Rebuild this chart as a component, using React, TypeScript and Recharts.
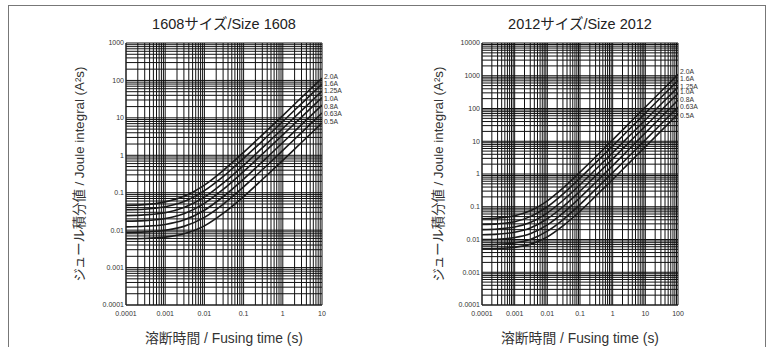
import { LineChart, Line, XAxis, YAxis, CartesianGrid } from 'recharts';

// fusing currents, top curve first
const CURRENTS = ['2.0A', '1.6A', '1.25A', '1.0A', '0.8A', '0.63A', '0.5A'];

// --- 1608 size ---
const TIME_1608 = [0.0001, 0.0003, 0.001, 0.003, 0.01, 0.03, 0.1, 0.3, 1, 3, 10];
const I2T_1608_20 = [0.046, 0.048, 0.057, 0.08, 0.16, 0.39, 1.2, 3.5, 11.5, 35, 115];
const I2T_1608_16 = [0.035, 0.036, 0.042, 0.058, 0.114, 0.27, 0.83, 2.4, 8, 24, 80];
const I2T_1608_125 = [0.0245, 0.0256, 0.029, 0.04, 0.076, 0.18, 0.54, 1.58, 5.2, 15.6, 52];
const I2T_1608_10 = [0.0174, 0.018, 0.0205, 0.0275, 0.052, 0.122, 0.37, 1.07, 3.5, 10.5, 35];
const I2T_1608_08 = [0.0122, 0.0127, 0.0142, 0.0186, 0.034, 0.078, 0.23, 0.67, 2.2, 6.6, 22];
const I2T_1608_063 = [0.0086, 0.0089, 0.0099, 0.0126, 0.022, 0.049, 0.144, 0.41, 1.35, 4.05, 13.5];
const I2T_1608_05 = [0.0059, 0.006, 0.0065, 0.008, 0.013, 0.028, 0.079, 0.225, 0.73, 2.2, 7.3];
const X_TICKS_1608 = [0.0001, 0.001, 0.01, 0.1, 1, 10];
const Y_TICKS_1608 = [0.0001, 0.001, 0.01, 0.1, 1, 10, 100, 1000];
// small vertical nudges so the end labels sit in an even stack
const NUDGE_1608 = [-1.8, -0.6, 0, 0.9, 2, 1, -1];

// --- 2012 size ---
const TIME_2012 = [0.0001, 0.0003, 0.001, 0.003, 0.01, 0.03, 0.1, 0.3, 1, 3, 10, 30, 100];
const I2T_2012_20 = [0.043, 0.045, 0.053, 0.075, 0.152, 0.37, 1.14, 3.3, 11, 33, 110, 330, 1100];
const I2T_2012_16 = [0.0287, 0.03, 0.035, 0.05, 0.1, 0.244, 0.75, 2.19, 7.2, 21.6, 72, 216, 720];
const I2T_2012_125 = [0.02, 0.021, 0.024, 0.033, 0.065, 0.155, 0.47, 1.37, 4.5, 13.5, 45, 135, 450];
const I2T_2012_10 = [0.014, 0.0146, 0.0166, 0.0224, 0.043, 0.1, 0.3, 0.88, 2.9, 8.7, 29, 87, 290];
const I2T_2012_08 = [0.0099, 0.0102, 0.0115, 0.015, 0.028, 0.064, 0.19, 0.55, 1.8, 5.4, 18, 54, 180];
const I2T_2012_063 = [0.0069, 0.0071, 0.0079, 0.01, 0.018, 0.04, 0.117, 0.34, 1.1, 3.3, 11, 33, 110];
const I2T_2012_05 = [0.0052, 0.0053, 0.0058, 0.0071, 0.012, 0.026, 0.073, 0.21, 0.68, 2.04, 6.8, 20.4, 68];
const X_TICKS_2012 = [0.0001, 0.001, 0.01, 0.1, 1, 10, 100];
const Y_TICKS_2012 = [0.0001, 0.001, 0.01, 0.1, 1, 10, 100, 1000, 10000];
const NUDGE_2012 = [-2.7, -1.7, -0.8, -1.4, 0, 0, 1.3];

const MINOR = [1, 2, 3, 4, 5, 6, 7, 8, 9];

const FONT = '"Liberation Sans", Arial, "Noto Sans CJK JP", sans-serif';
const INK = '#222';

function logGrid(decades: number[]) {
  const max = decades[decades.length - 1];
  return decades
    .flatMap((d) => MINOR.map((m) => Number((m * d).toPrecision(3))))
    .filter((v) => v <= max * 1.0001);
}

function buildRows(times: number[], series: number[][]) {
  return times.map((t, i) => {
    const row: Record<string, number> = { t };
    series.forEach((s, k) => {
      row[`c${k}`] = s[i];
    });
    return row;
  });
}

interface PanelProps {
  title: string;
  times: number[];
  series: number[][];
  nudge: number[];
  xTicks: number[];
  yTicks: number[];
  axisWidth: number;
  rightMargin: number;
  labelOffset: number;
}

function Panel({ title, times, series, nudge, xTicks, yTicks, axisWidth, rightMargin, labelOffset }: PanelProps) {
  const rows = buildRows(times, series);
  const last = times.length - 1;
  const plotWidth = 385 - axisWidth - rightMargin;

  const endLabel = (k: number) => (props: any) => {
    if (props.index !== last) return null;
    return (
      <text x={props.x + 2} y={props.y + nudge[k]} dy={2.3} fontSize={6.8} fill="#333">
        {CURRENTS[k]}
      </text>
    );
  };

  return (
    <div style={{ position: 'relative', width: 385, height: 347 }}>
      <div
        style={{
          position: 'absolute',
          left: axisWidth,
          width: plotWidth,
          top: 16,
          textAlign: 'center',
          fontSize: 14.5,
          lineHeight: '17px',
          color: INK,
        }}
      >
        {title}
      </div>
      <LineChart width={385} height={347} data={rows} margin={{ top: 43, right: rightMargin, bottom: 0, left: 0 }}>
        <CartesianGrid
          stroke="#111"
          strokeWidth={1}
          verticalValues={logGrid(xTicks)}
          horizontalValues={logGrid(yTicks)}
        />
        <XAxis
          dataKey="t"
          type="number"
          scale="log"
          domain={[xTicks[0], xTicks[xTicks.length - 1]]}
          ticks={xTicks}
          interval={0}
          allowDataOverflow
          height={42}
          tickLine={false}
          tickSize={4}
          tickMargin={2}
          tickFormatter={(v) => String(v)}
          axisLine={{ stroke: INK }}
          tick={{ fontSize: 7, fill: '#333' }}
          label={{
            value: '溶断時間 / Fusing time (s)',
            position: 'insideBottom',
            offset: 4,
            style: { fontSize: 13.8, fill: '#333' },
          }}
        />
        <YAxis
          type="number"
          scale="log"
          domain={[yTicks[0], yTicks[yTicks.length - 1]]}
          ticks={yTicks}
          interval={0}
          allowDataOverflow
          width={axisWidth}
          tickLine={false}
          tickSize={1}
          tickMargin={1}
          tickFormatter={(v) => String(v)}
          axisLine={{ stroke: INK }}
          tick={{ fontSize: 7, fill: '#333' }}
          label={{
            value: 'ジュール積分値 / Joule integral (A²s)',
            angle: -90,
            position: 'insideLeft',
            offset: labelOffset,
            style: { textAnchor: 'middle', fontSize: 13.3, fill: '#333' },
          }}
        />
        {series.map((_, k) => (
          <Line
            key={CURRENTS[k]}
            dataKey={`c${k}`}
            type="monotone"
            stroke="#1a1a1a"
            strokeWidth={1.6}
            dot={false}
            isAnimationActive={false}
            label={endLabel(k)}
          />
        ))}
      </LineChart>
    </div>
  );
}

export default function App() {
  return (
    <div
      style={{
        position: 'absolute',
        left: 0,
        top: 0,
        width: 770,
        height: 347,
        overflow: 'hidden',
        background: '#fff',
        fontFamily: FONT,
      }}
    >
      <div
        style={{
          position: 'absolute',
          left: 8,
          top: 5,
          width: 756,
          height: 360,
          border: '1px solid #777',
        }}
      />
      <div style={{ position: 'absolute', left: 0, top: 0, display: 'flex' }}>
        <Panel
          title="1608サイズ/Size 1608"
          times={TIME_1608}
          series={[I2T_1608_20, I2T_1608_16, I2T_1608_125, I2T_1608_10, I2T_1608_08, I2T_1608_063, I2T_1608_05]}
          nudge={NUDGE_1608}
          xTicks={X_TICKS_1608}
          yTicks={Y_TICKS_1608}
          axisWidth={126}
          rightMargin={63}
          labelOffset={79}
        />
        <Panel
          title="2012サイズ/Size 2012"
          times={TIME_2012}
          series={[I2T_2012_20, I2T_2012_16, I2T_2012_125, I2T_2012_10, I2T_2012_08, I2T_2012_063, I2T_2012_05]}
          nudge={NUDGE_2012}
          xTicks={X_TICKS_2012}
          yTicks={Y_TICKS_2012}
          axisWidth={97}
          rightMargin={92}
          labelOffset={53}
        />
      </div>
    </div>
  );
}
